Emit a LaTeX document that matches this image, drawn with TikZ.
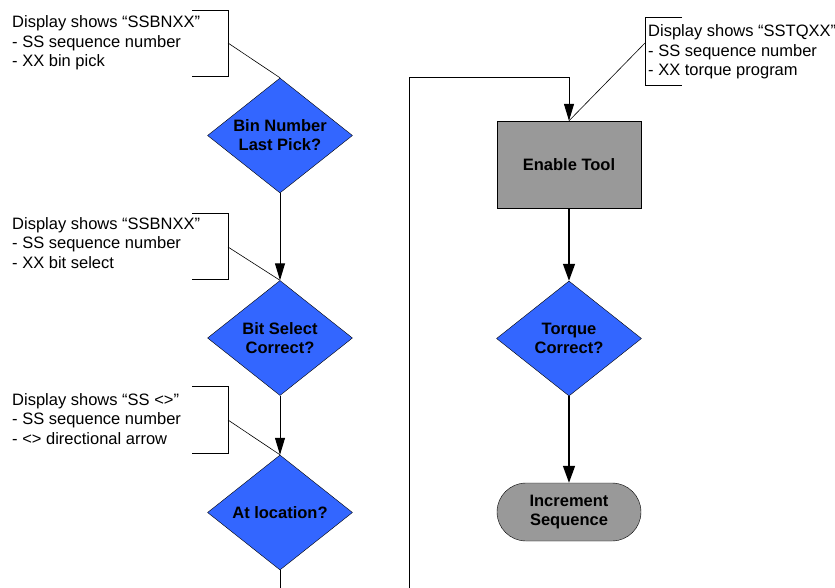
\documentclass[tikz,border=0pt]{standalone}
\usepackage{fontspec}
\setmainfont{Liberation Sans}
\usepackage{xcolor}
\definecolor{flowblue}{HTML}{3366FF}
\definecolor{boxgray}{HTML}{999999}
\usetikzlibrary{arrows.meta, positioning, shapes.geometric}

\begin{document}
\begin{tikzpicture}[
    x=1pt, y=-1pt,
    decision/.style={draw, diamond, fill=flowblue, aspect=1.25, inner sep=0pt,
                     minimum width=145pt, minimum height=115pt, align=center,
                     font=\fontsize{16.5}{19}\selectfont\bfseries},
    process/.style={draw, fill=boxgray, minimum width=144pt, minimum height=87pt,
                    align=center, font=\fontsize{16.5}{19}\selectfont\bfseries},
    terminal/.style={draw, fill=boxgray, rounded corners=29pt, minimum width=144pt,
                     minimum height=58pt, align=center,
                     font=\fontsize{16.5}{19}\selectfont\bfseries},
    note/.style={anchor=base west, inner sep=0pt, align=left,
                 font=\fontsize{16.5}{19.5}\selectfont},
    bracket/.style={line width=0.8pt},
    leader/.style={line width=0.6pt},
    arrow/.style={-{Triangle[length=17pt, width=10pt]}, line width=1pt},
    thickarrow/.style={-{Triangle[length=17pt, width=12pt]}, line width=1.4pt},
    flow/.style={line width=1pt}
  ]
    \useasboundingbox (0,0) rectangle (835,588);

    % left column
    \node[decision] (binpick) at (280,135.5) {Bin Number\\Last Pick?};
    \node[decision] (bitsel) at (280,338) {Bit Select\\Correct?};
    \node[decision] (atloc) at (280,512.5) {At location?};
    \coordinate (leftend) at (280,588);

    \draw[arrow] (binpick) -- (bitsel);
    \draw[arrow] (bitsel) -- (atloc);
    \draw[flow] (atloc) -- (leftend);

    % right column
    \node[process] (enable) at (569,164.5) {Enable Tool};
    \node[decision] (torque) at (569,338.5) {Torque\\Correct?};
    \node[terminal] (incseq) at (569,512) {Increment\\Sequence};

    \coordinate (loopbot) at (409,588);
    \coordinate (looptop) at (409,78);
    \draw[arrow] (loopbot) -- (looptop) -| (enable.north);
    \draw[thickarrow] (enable) -- (torque);
    \draw[thickarrow] (torque) -- (incseq);

    % display notes (base = last line)
    \node[note] (note1) at (12,67)
      {Display shows “SSBNXX”\\- SS sequence number\\- XX bin pick};
    \draw[bracket] (192,10) -| (228,76) -- (192,76);
    \coordinate (tip1) at (228,43);
    \draw[leader] (tip1) -- (binpick.north);

    \node[note] (note2) at (12,268)
      {Display shows “SSBNXX”\\- SS sequence number\\- XX bit select};
    \draw[bracket] (192,213) -| (228,279) -- (192,279);
    \coordinate (tip2) at (228,247);
    \draw[leader] (tip2) -- (bitsel.north);

    \node[note] (note3) at (12,444)
      {Display shows “SS <>”\\- SS sequence number\\- <> directional arrow};
    \draw[bracket] (192,386) -| (228,453) -- (192,453);
    \coordinate (tip3) at (228,420);
    \draw[leader] (tip3) -- (atloc.north);

    \node[note] (note4) at (648,76)
      {Display shows “SSTQXX”\\- SS sequence number\\- XX torque program};
    \draw[bracket] (682,17) -| (645,85) -- (682,85);
    \coordinate (tip4) at (645,43);
    \draw[leader] (tip4) -- (enable.north);
  \end{tikzpicture}
\end{document}
